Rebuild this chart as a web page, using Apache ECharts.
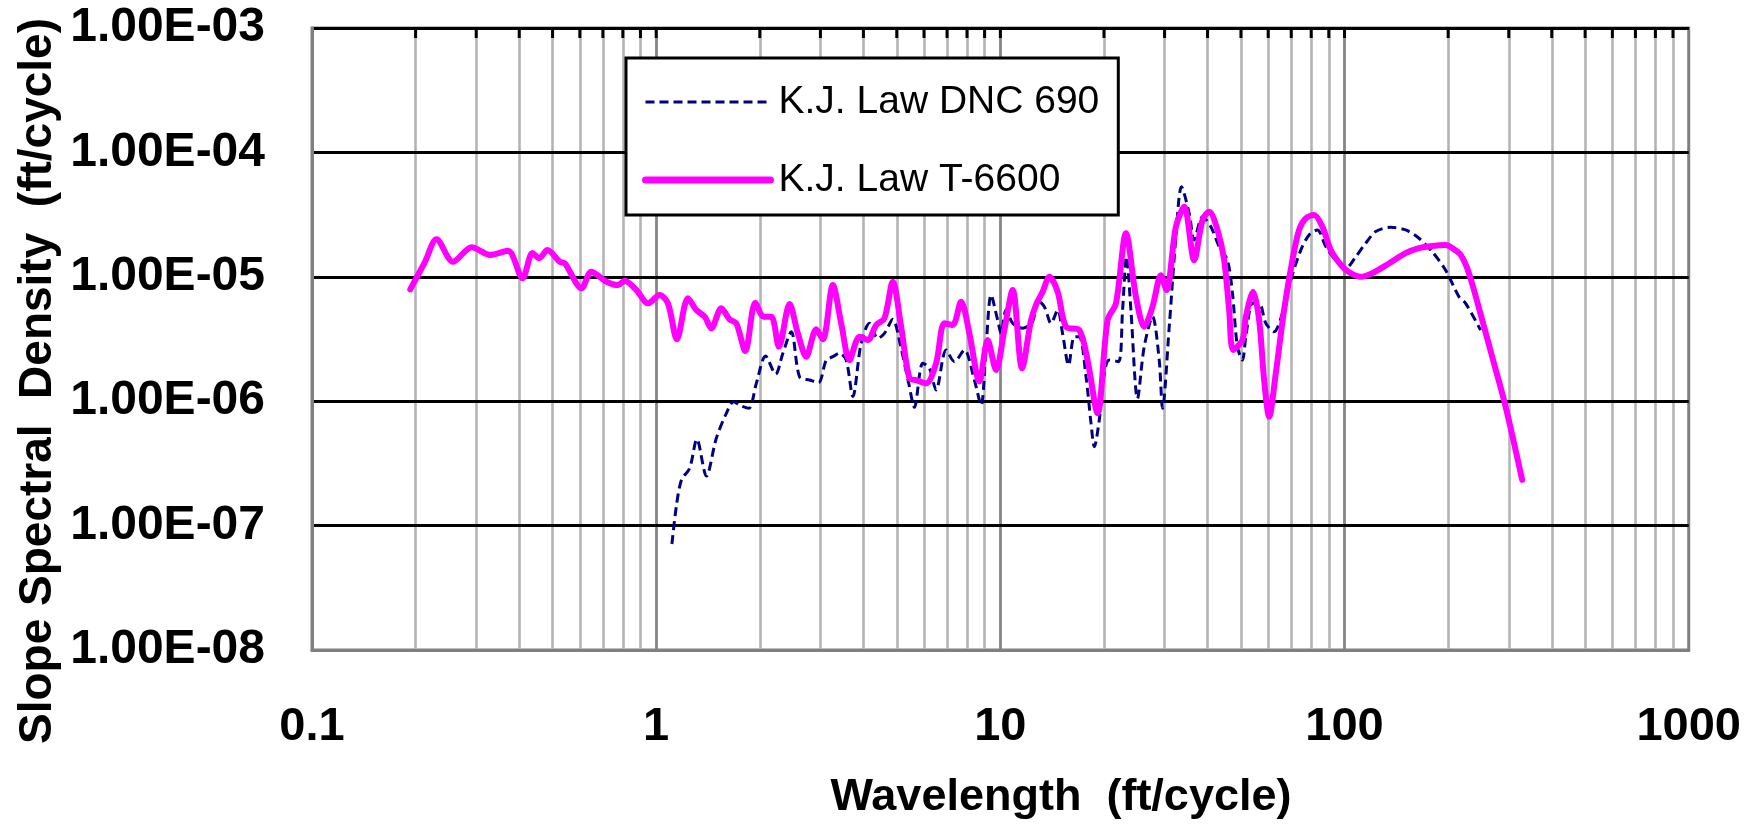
<!DOCTYPE html>
<html>
<head>
<meta charset="utf-8">
<script src="https://cdn.jsdelivr.net/npm/echarts@6/dist/echarts.min.js"></script>
<style>html,body{margin:0;padding:0;background:#fff}#c{width:1744px;height:825px}</style>
</head>
<body>
<div id="c"></div>
<script>
const seriesNames = ['K.J. Law DNC 690', 'K.J. Law T-6600'];
const xTitle = 'Wavelength  (ft/cycle)';
const yTitle = 'Slope Spectral  Density  (ft/cycle)';
const xTickLabels = ['0.1', '1', '10', '100', '1000'];
const yTickLabels = ['1.00E-08', '1.00E-07', '1.00E-06', '1.00E-05', '1.00E-04', '1.00E-03'];

// K.J. Law DNC 690 (dashed navy)
const dncX = [1.111, 1.144, 1.184, 1.251, 1.313, 1.399, 1.495, 1.599, 1.679, 1.767, 1.859, 1.954, 2.079, 2.223, 2.334, 2.469, 2.609, 2.790, 2.963, 3.119,
  3.261, 3.409, 3.565, 3.727, 3.940, 4.166, 4.404, 4.605, 4.868, 5.124, 5.417, 5.627, 5.950, 6.221, 6.506, 6.957, 7.354, 7.862, 8.404, 8.790,
  9.089, 9.397, 9.822, 10.05, 10.39, 10.86, 11.61, 12.41, 12.83, 13.42, 14.04, 14.67, 15.16, 15.79, 16.40, 16.96, 17.74, 18.34, 18.75, 19.38,
  20.04, 20.72, 22.05, 22.65, 23.26, 23.95, 25.03, 26.18, 27.68, 28.94, 29.59, 30.95, 32.36, 33.60, 35.37, 36.57, 38.66, 40.89, 43.22, 45.69,
  47.24, 48.84, 50.50, 51.67, 54.01, 56.48, 59.06, 62.43, 66.00, 69.80, 74.63, 78.89, 83.37, 88.20, 94.30, 100.8, 107.8, 115.2, 123.2, 136.2,
  150.5, 164.5, 179.8, 196.7, 215.0, 224.8, 248.5];
const dncY = [7.11e-8, 1.42e-7, 2.33e-7, 2.89e-7, 4.94e-7, 2.50e-7, 5.03e-7, 7.99e-7, 9.91e-7, 9.15e-7, 8.77e-7, 1.39e-6, 2.31e-6, 1.65e-6, 2.43e-6, 3.62e-6, 1.57e-6, 1.48e-6, 1.41e-6, 2.14e-6,
  2.28e-6, 2.43e-6, 2.14e-6, 1.09e-6, 2.92e-6, 4.23e-6, 3.20e-6, 3.51e-6, 4.55e-6, 2.83e-6, 1.39e-6, 8.93e-7, 2.02e-6, 1.84e-6, 1.23e-6, 2.58e-6, 2.08e-6, 2.58e-6, 1.48e-6, 9.32e-7,
  2.74e-6, 7.14e-6, 4.49e-6, 3.51e-6, 5.41e-6, 4.23e-6, 3.86e-6, 4.36e-6, 6.51e-6, 5.75e-6, 4.23e-6, 5.41e-6, 3.51e-6, 1.95e-6, 3.30e-6, 3.30e-6, 1.57e-6, 6.64e-7, 4.31e-7, 7.06e-7,
  1.68e-6, 2.14e-6, 2.08e-6, 5.41e-6, 1.45e-5, 5.41e-6, 1.05e-6, 2.74e-6, 4.78e-6, 2.14e-6, 8.77e-7, 3.97e-6, 2.10e-5, 5.30e-5, 3.24e-5, 1.98e-5, 3.04e-5, 2.53e-5, 1.75e-5, 1.36e-5,
  7.37e-6, 2.74e-6, 2.14e-6, 3.30e-6, 6.12e-6, 6.12e-6, 4.23e-6, 3.62e-6, 5.09e-6, 9.43e-6, 1.64e-5, 2.17e-5, 2.38e-5, 1.75e-5, 1.36e-5, 1.17e-5, 1.45e-5, 1.86e-5, 2.31e-5, 2.50e-5,
  2.38e-5, 2.04e-5, 1.59e-5, 1.13e-5, 6.92e-6, 6.12e-6, 3.73e-6];

// K.J. Law T-6600 (solid magenta)
const t6600X = [0.193, 0.213, 0.230, 0.257, 0.291, 0.329, 0.371, 0.409, 0.437, 0.457, 0.483, 0.525, 0.543, 0.607, 0.648, 0.717, 0.775, 0.810, 0.876, 0.947,
  1.024, 1.082, 1.149, 1.237, 1.308, 1.383, 1.446, 1.546, 1.634, 1.709, 1.815, 1.941, 2.051, 2.160, 2.273, 2.441, 2.580, 2.729, 2.917, 3.050,
  3.261, 3.448, 3.645, 3.897, 4.120, 4.357, 4.605, 4.868, 5.149, 5.442, 5.691, 6.085, 6.506, 6.878, 7.270, 7.690, 8.128, 8.690, 9.186, 9.716,
  10.27, 10.86, 11.56, 12.28, 12.69, 13.27, 13.88, 14.67, 15.51, 16.96, 17.92, 19.16, 20.49, 21.67, 23.17, 24.77, 26.18, 27.68, 29.28, 30.39,
  32.36, 34.21, 36.57, 38.66, 40.44, 42.74, 44.69, 46.21, 47.46, 50.50, 51.67, 54.26, 56.48, 58.40, 60.38, 63.14, 66.74, 70.55, 73.77, 77.15,
  81.55, 86.23, 91.19, 98.54, 104.2, 111.4, 120.4, 134.6, 150.5, 164.5, 179.8, 196.7, 205.6, 217.5, 229.8, 251.2, 268.5, 293.8, 328.2];
const t6600Y = [7.93e-6, 1.32e-5, 2.00e-5, 1.32e-5, 1.73e-5, 1.50e-5, 1.62e-5, 9.73e-6, 1.55e-5, 1.41e-5, 1.64e-5, 1.32e-5, 1.28e-5, 8.08e-6, 1.10e-5, 9.13e-6, 8.59e-6, 9.30e-6, 7.83e-6, 6.12e-6,
  7.14e-6, 6.12e-6, 3.15e-6, 6.72e-6, 5.41e-6, 4.78e-6, 3.86e-6, 5.58e-6, 4.55e-6, 4.23e-6, 2.53e-6, 6.19e-6, 4.78e-6, 4.78e-6, 2.74e-6, 6.04e-6, 3.51e-6, 2.28e-6, 3.78e-6, 3.15e-6,
  8.59e-6, 4.23e-6, 2.14e-6, 3.30e-6, 3.10e-6, 4.10e-6, 4.64e-6, 9.13e-6, 3.97e-6, 1.53e-6, 1.48e-6, 1.39e-6, 2.02e-6, 4.23e-6, 4.10e-6, 6.31e-6, 3.51e-6, 1.44e-6, 3.10e-6, 1.78e-6,
  3.73e-6, 7.83e-6, 1.84e-6, 4.49e-6, 5.93e-6, 7.59e-6, 1.00e-5, 7.59e-6, 3.97e-6, 3.73e-6, 2.14e-6, 7.99e-7, 4.49e-6, 6.12e-6, 2.24e-5, 6.92e-6, 3.97e-6, 5.75e-6, 1.03e-5, 7.83e-6,
  2.53e-5, 3.66e-5, 1.36e-5, 2.86e-5, 3.34e-5, 2.38e-5, 1.36e-5, 5.41e-6, 2.58e-6, 3.10e-6, 4.78e-6, 7.59e-6, 4.49e-6, 1.48e-6, 7.50e-7, 1.68e-6, 5.41e-6, 1.36e-5, 2.38e-5, 2.95e-5,
  3.14e-5, 2.53e-5, 1.64e-5, 1.21e-5, 1.07e-5, 1.00e-5, 1.07e-5, 1.28e-5, 1.55e-5, 1.70e-5, 1.77e-5, 1.80e-5, 1.70e-5, 1.50e-5, 1.07e-5, 4.49e-6, 2.28e-6, 9.03e-7, 2.33e-7];

const FONT = "'Liberation Sans', Arial, Helvetica, sans-serif";

const dncData = dncX.map((x, i) => [x, dncY[i]]);
const t6600Data = t6600X.map((x, i) => [x, t6600Y[i]]);

// vertical grid positions (log-axis minor lines 2..9 of each decade, and inner decades)
const decadeStarts = [0.1, 1, 10, 100];
const minorGridX = [];
decadeStarts.forEach(d => { for (let k = 2; k <= 9; k++) minorGridX.push(+(d * k).toPrecision(3)); });
const decadeGridX = [1, 10, 100];

const gridLines = [];
minorGridX.forEach(v => gridLines.push({ xAxis: v, lineStyle: { color: '#b4b4b4', width: 2.6, type: 'solid' } }));
decadeGridX.forEach(v => gridLines.push({ xAxis: v, lineStyle: { color: '#858585', width: 2.8, type: 'solid' } }));

const chart = echarts.init(document.getElementById('c'), null, { renderer: 'canvas' });

const option = {
  animation: false,
  backgroundColor: '#fff',
  grid: { left: 312, top: 28, right: 54, bottom: 175, show: true, borderColor: '#808080', borderWidth: 3, backgroundColor: 'transparent' },
  legend: {
    orient: 'vertical', left: 626, top: 58,
    padding: [22, 19, 13, 16],
    itemWidth: 125, itemHeight: 20, itemGap: 34,
    backgroundColor: '#fff', borderColor: '#000', borderWidth: 3, borderRadius: 0,
    selectedMode: false, z: 6,
    itemStyle: { opacity: 0, color: 'transparent', borderWidth: 0 },
    textStyle: { fontFamily: FONT, fontSize: 39, color: '#000', lineHeight: 44, padding: [0, 0, 0, 3] },
    data: [
      { name: seriesNames[0], lineStyle: { width: 3 }, itemStyle: { opacity: 0, color: 'transparent', borderWidth: 0 } },
      { name: seriesNames[1], lineStyle: { width: 7 }, itemStyle: { opacity: 0, color: 'transparent', borderWidth: 0 } }
    ]
  },
  xAxis: {
    type: 'log', logBase: 10, min: 0.1, max: 1000, z: 3,
    axisLine: { show: true, onZero: false, lineStyle: { color: '#808080', width: 3 } },
    axisTick: { show: false },
    splitLine: { show: false },
    axisLabel: {
      margin: 54, fontFamily: FONT, fontWeight: 'bold', fontSize: 47, color: '#000',
      formatter: v => xTickLabels[Math.round(Math.log10(v)) + 1]
    }
  },
  yAxis: {
    type: 'log', logBase: 10, min: 1e-8, max: 1e-3, z: 2,
    axisLine: { show: true, onZero: false, lineStyle: { color: '#808080', width: 3 } },
    axisTick: { show: false },
    splitLine: { show: true, lineStyle: { color: '#000', width: 3 } },
    axisLabel: {
      margin: 47, fontFamily: FONT, fontWeight: 'bold', fontSize: 48, color: '#000',
      formatter: v => yTickLabels[Math.round(Math.log10(v)) + 8]
    }
  },
  graphic: [
    { type: 'text', x: 1061, y: 798, z: 10,
      style: { text: xTitle, font: 'bold 45px ' + FONT, fill: '#000', textAlign: 'center', textVerticalAlign: 'middle' } },
    { type: 'text', x: 38, y: 381, rotation: Math.PI / 2, z: 10,
      style: { text: yTitle, font: 'bold 46px ' + FONT, fill: '#000', textAlign: 'center', textVerticalAlign: 'middle' } }
  ],
  series: [
    {
      name: '_grid', type: 'line', data: [], silent: true, z: 1,
      markLine: { silent: true, z: 1, animation: false, symbol: ['none', 'none'], label: { show: false }, data: gridLines }
    },
    {
      name: seriesNames[0], type: 'line', data: dncData, symbol: 'none', showSymbol: false, smooth: 0.3, z: 5,
      lineStyle: { color: '#000080', width: 3, type: [9, 5] }, itemStyle: { color: '#000080' }
    },
    {
      name: seriesNames[1], type: 'line', data: t6600Data, symbol: 'none', showSymbol: false, smooth: 0.3, z: 6,
      lineStyle: { color: '#FF00FF', width: 6, cap: 'round', join: 'round' }, itemStyle: { color: '#FF00FF' }
    }
  ]
};
chart.setOption(option);

// short black tick marks hanging from the top edge at every vertical grid position
const tickVals = minorGridX.concat(decadeGridX);
const topY = chart.convertToPixel({ yAxisIndex: 0 }, 1e-3);
const tickGraphics = tickVals.map(v => {
  const px = chart.convertToPixel({ xAxisIndex: 0 }, v);
  return { type: 'line', z: 9, shape: { x1: px, y1: topY, x2: px, y2: topY + 10 }, style: { stroke: '#000', lineWidth: 3 } };
});
chart.setOption({ graphic: option.graphic.concat(tickGraphics) });
</script>
</body>
</html>
